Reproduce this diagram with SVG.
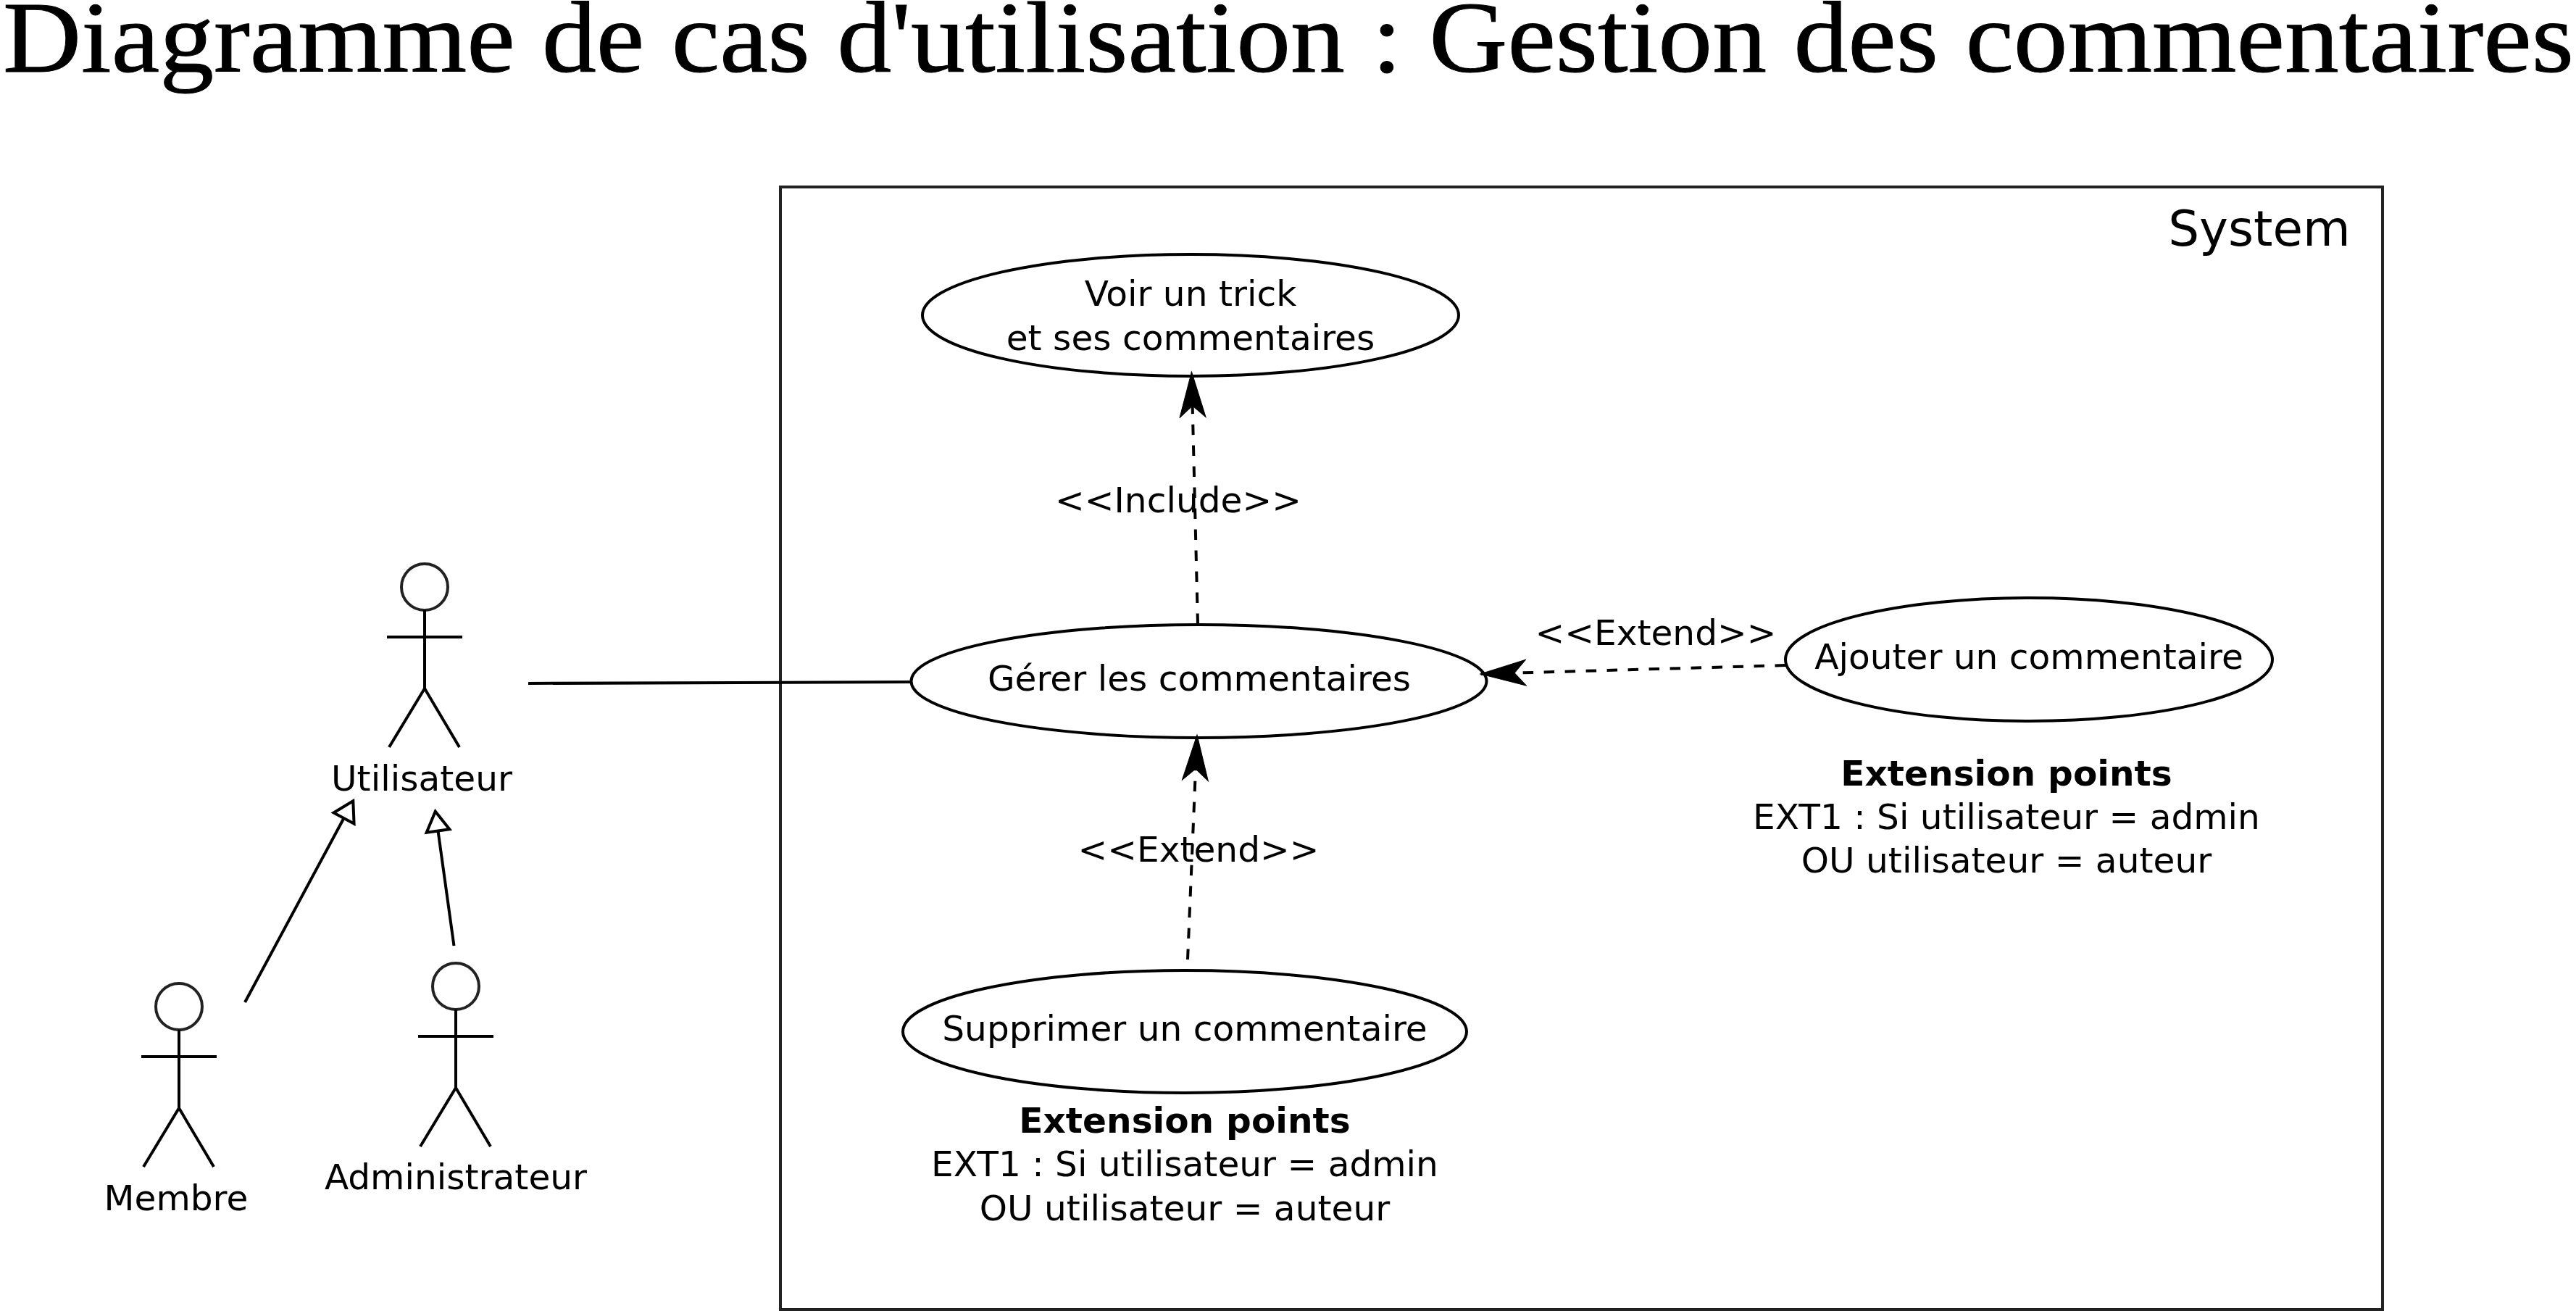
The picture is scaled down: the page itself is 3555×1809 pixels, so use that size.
<svg xmlns="http://www.w3.org/2000/svg" width="3555" height="1809" viewBox="0 0 3555 1809">
<style>
text{font-family:"DejaVu Sans",sans-serif;font-size:48.6px;fill:#000;text-anchor:middle}
.b{font-weight:700}
.title{font-family:"Liberation Serif",serif;font-size:140px;text-anchor:start;stroke:#000;stroke-width:1}
.sys{font-size:67.5px}
.uc{fill:#fff;stroke:#000;stroke-width:4}
.stick{fill:none;stroke:#000;stroke-width:4}
.head{fill:#fff;stroke:#222;stroke-width:4}
.assoc{fill:none;stroke:#000;stroke-width:4}
.gen{fill:none;stroke:#000;stroke-width:4;marker-end:url(#hollow)}
.dash{fill:none;stroke:#000;stroke-width:4;stroke-dasharray:14.5 14.5;marker-end:url(#notch)}
</style>
<defs>
<marker id="hollow" markerUnits="userSpaceOnUse" markerWidth="40" markerHeight="44" refX="3" refY="22" orient="auto"><path d="M3,6 L30,22 L3,38 Z" fill="#fff" stroke="#000" stroke-width="4"/></marker>
<marker id="notch" markerUnits="userSpaceOnUse" markerWidth="70" markerHeight="44" refX="64" refY="22" orient="auto"><path d="M64,22 L1,4 L17,22 L1,40 Z" fill="#000" stroke="#000" stroke-width="1"/></marker>
<g id="stickman"><ellipse class="head" cx="0" cy="0" rx="32" ry="32"/><path class="stick" d="M0,32V140M-52,69H52M0,140L-49,221M0,140L48,221"/></g>
</defs>
<rect width="3555" height="1809" fill="#fff"/>
<text id="title" class="title" x="4" y="99" textLength="3548" lengthAdjust="spacingAndGlyphs">Diagramme de cas d'utilisation : Gestion des commentaires</text>
<g id="system"><rect x="1077" y="258" width="2211" height="1549" fill="#fff" stroke="#222" stroke-width="4"/><text class="sys" x="3118" y="339">System</text></g>
<g id="uc-voir"><ellipse class="uc" cx="1643" cy="435" rx="370" ry="84"/><text x="1643" y="422">Voir un trick</text><text x="1643" y="483">et ses commentaires</text></g>
<g id="uc-gerer"><ellipse class="uc" cx="1654.5" cy="940" rx="397" ry="78"/><text x="1655" y="953">Gérer les commentaires</text></g>
<g id="uc-ajouter"><ellipse class="uc" cx="2800" cy="910" rx="336" ry="85"/><text x="2800" y="923">Ajouter un commentaire</text></g>
<g id="uc-supprimer"><ellipse class="uc" cx="1635" cy="1423.5" rx="389" ry="84.5"/><text x="1635" y="1436">Supprimer un commentaire</text></g>
<g id="ext-ajouter"><text class="b" x="2769" y="1084">Extension points</text><text x="2769" y="1144">EXT1 : Si utilisateur = admin</text><text x="2769" y="1204">OU utilisateur = auteur</text></g>
<g id="ext-supprimer"><text class="b" x="1635" y="1563">Extension points</text><text x="1635" y="1623">EXT1 : Si utilisateur = admin</text><text x="1635" y="1684">OU utilisateur = auteur</text></g>
<g id="actor-utilisateur"><use href="#stickman" x="586" y="810"/><text x="582" y="1091">Utilisateur</text></g>
<g id="actor-membre"><use href="#stickman" x="247" y="1389"/><text x="243" y="1670">Membre</text></g>
<g id="actor-administrateur"><use href="#stickman" x="629" y="1361"/><text x="629" y="1641">Administrateur</text></g>
<g id="connectors">
<line class="assoc" x1="729" y1="943" x2="1257" y2="941"/>
<line class="gen" x1="338" y1="1383" x2="474.5" y2="1129"/>
<line class="gen" x1="626.5" y1="1305" x2="604.5" y2="1146.5"/>
<line class="dash" x1="1653" y1="861" x2="1644.5" y2="513"/>
<line class="dash" x1="2464" y1="918" x2="2043" y2="930"/>
<line class="dash" x1="1639" y1="1324" x2="1652" y2="1014"/>
</g>
<g id="connector-labels"><text x="1626" y="707">&lt;&lt;Include&gt;&gt;</text><text x="2285" y="890">&lt;&lt;Extend&gt;&gt;</text><text x="1654" y="1189">&lt;&lt;Extend&gt;&gt;</text></g>
</svg>
